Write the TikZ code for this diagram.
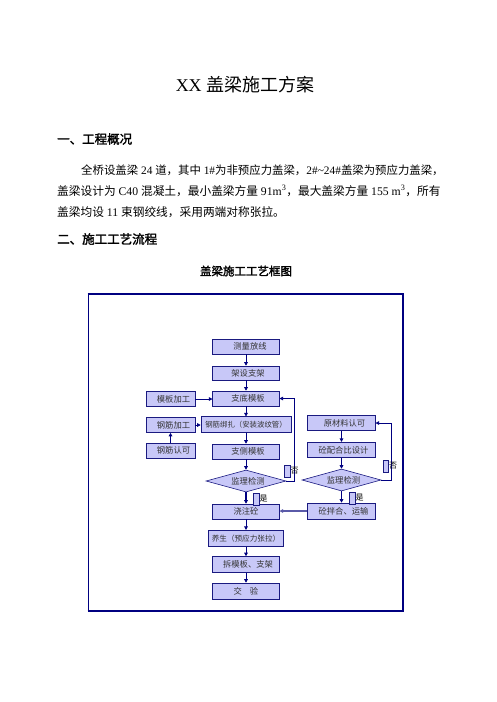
\documentclass[tikz,border=0pt]{standalone}
\usepackage{fontspec}
\setmainfont{Liberation Serif}
\newfontfamily\cjk{Noto Sans CJK SC}
\newfontfamily\cjkb[FakeBold=2]{Noto Sans CJK SC}
\usetikzlibrary{shapes.geometric,arrows.meta}
\definecolor{navy}{HTML}{000080}
\definecolor{boxline}{HTML}{1A1A80}
\definecolor{lav}{HTML}{C8C8F8}
\definecolor{boxtext}{HTML}{333333}
\definecolor{grayblue}{HTML}{5A5AA8}
\begin{document}
\begin{tikzpicture}[x=1pt,y=-1pt,
  fbox/.style={draw=boxline, fill=lav, line width=0.6pt, inner sep=0pt,
    font=\cjk\fontsize{8.3}{10}\selectfont, text=boxtext,
    minimum width=66.5pt, minimum height=15pt},
  sbox/.style={fbox, minimum width=49pt},
  rbox/.style={fbox, minimum width=67.5pt, minimum height=15.5pt},
  dbox/.style={fbox, diamond, aspect=3.64, minimum width=80pt, minimum height=22pt},
  flow/.style={draw=navy, line width=0.8pt, -{Triangle[length=3.5pt,width=3.6pt]}},
  yn/.style={draw=boxline, fill=lav, line width=0.5pt, inner sep=0pt, minimum width=5.5pt, minimum height=12pt},
  ynt/.style={font=\cjk\fontsize{8}{9}\selectfont, inner sep=0pt},
  body/.style={anchor=west, inner sep=0pt, font=\fontsize{11.7}{13}\selectfont},
  head/.style={anchor=west, inner sep=0pt, font=\cjkb\fontsize{12.5}{14}\selectfont}
]
\useasboundingbox[fill=white] (0,0) rectangle (496,702);

% title and text
\node[inner sep=0pt, font=\fontsize{18}{20}\selectfont] (title) at (245,85) {XX {\cjk 盖梁施工方案}};
\node[head] (h1) at (57,139) {一、工程概况};
\node[body, font=\fontsize{11.4}{13}\selectfont] (p1) at (81,170) {{\cjk 全桥设盖梁} 24 {\cjk 道，其中} 1\#{\cjk 为非预应力盖梁，}2\#\textasciitilde 24\#{\cjk 盖梁为预应力盖梁，}};
\node[body] (p2) at (57,191) {{\cjk 盖梁设计为} C40 {\cjk 混凝土，最小盖梁方量} 91m\textsuperscript{3}{\cjk ，最大盖梁方量} 155 m\textsuperscript{3}{\cjk ，所有}};
\node[body] (p3) at (57,212) {{\cjk 盖梁均设} 11 {\cjk 束钢绞线，采用两端对称张拉。}};
\node[head] (h2) at (57,239) {二、施工工艺流程};
\node[inner sep=0pt, font=\cjkb\fontsize{11.5}{13}\selectfont] (sub) at (246,271) {盖梁施工工艺框图};

% frame
\draw[navy, line width=2.7pt] (87.5,294) -- (403.5,294);
\draw[navy, line width=1pt] (88,294) -- (88,611);
\draw[navy, line width=1.6pt] (402.7,294) -- (402.7,611.5);
\draw[navy, line width=2.2pt] (87.5,611) -- (403.5,611);

% main column
\node[fbox] (n1) at (246,346.5) {\hspace{8pt}测量放线};
\node[fbox, minimum height=14pt] (n2) at (246,373) {\hspace{4pt}架设支架};
\node[fbox] (n3) at (246,398.5) {\hspace{4pt}支底模板};
\node[fbox, minimum width=90pt, minimum height=15.5pt, font=\cjk\fontsize{7.4}{9}\selectfont] (n4) at (246,424.5) {钢筋绑扎（安装波纹管）};
\node[fbox] (n5) at (246,451.5) {\hspace{4pt}支侧模板};
\node[dbox] (d1) at (246,481) {\hspace{4pt}监理检测};
\node[fbox] (n6) at (246,511.5) {浇注砼};
\node[fbox, minimum width=75.5pt, minimum height=16.5pt, font=\cjk\fontsize{7.6}{9}\selectfont] (n7) at (246,538.5) {养生（预应力张拉）};
\node[fbox, minimum height=16pt] (n8) at (246,564.5) {\hspace{4pt}拆模板、支架};
\node[fbox, minimum height=16pt] (n9) at (246,591) {交\hspace{8pt}验};

% left column
\node[sbox] (m1) at (170.5,399) {\hspace{6pt}模板加工};
\node[sbox] (m2) at (170.5,425) {\hspace{6pt}钢筋加工};
\node[sbox] (m3) at (170.5,450.5) {\hspace{6pt}钢筋认可};

% right column
\node[rbox] (r1) at (341.5,423) {\hspace{6pt}原材料认可};
\node[rbox] (r2) at (341.5,450) {\hspace{4pt}砼配合比设计};
\node[dbox, minimum width=79pt] (d2) at (341.5,480) {\hspace{4pt}监理检测};
\node[rbox, minimum width=68pt, minimum height=16pt] (r3) at (341.5,511) {\hspace{4pt}砼拌合、运输};

% connectors
\draw[flow] (n1) -- (n2);
\draw[flow] (n2) -- (n3);
\draw[flow] (n3) -- (n4);
\draw[flow] (n4) -- (n5);
\draw[flow] (n5) -- (d1);
\draw[flow, line width=1.4pt] (d1) -- (n6);
\draw[flow] (n6) -- (n7);
\draw[flow] (n7) -- (n8);
\draw[flow] (n8) -- (n9);
\draw[flow] (m1.east) -- (m1.east -| n3.west);
\draw[flow] (m2.east) -- (m2.east -| n4.west);
\draw[flow, line width=1.4pt] (m3.north) -- (m2.south);
\draw[flow] (r1) -- (r2);
\draw[flow] (r2) -- (d2);
\draw[flow, line width=1.2pt] (d2) -- (r3);
\draw[flow, draw=grayblue, line width=1.8pt] (r3.west) -- (r3.west -| n6.east);
\draw[flow] (d1.east) -- ++(8.3,0) |- (n3.east);
\draw[flow] (d2.east) -- ++(10,0) |- (r1.east);

% yes / no labels
\node[yn] (no1) at (287,471) {};
\node[ynt, anchor=west] (no1t) at (290.5,471) {否};
\node[yn] (no2) at (385.5,466) {};
\node[ynt, anchor=west] (no2t) at (389,466) {否};
\node[yn] (yes1) at (256,499) {};
\node[ynt, anchor=west] (yes1t) at (259.5,499) {是};
\node[yn] (yes2) at (352,498) {};
\node[ynt, anchor=west] (yes2t) at (355.5,498) {是};
\end{tikzpicture}
\end{document}
